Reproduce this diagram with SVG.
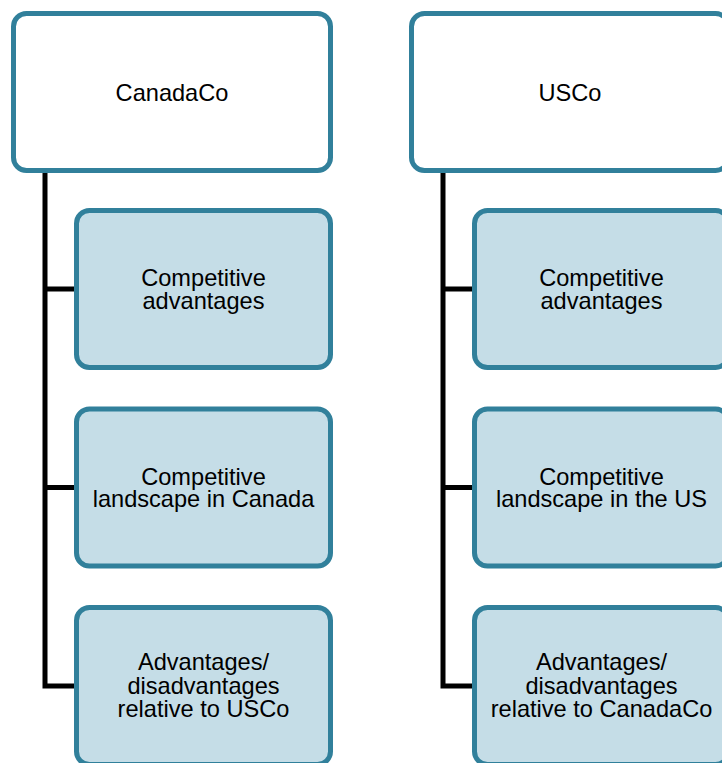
<svg xmlns="http://www.w3.org/2000/svg" width="722" height="763" viewBox="0 0 722 763">
<style>
.top{fill:#FFFFFF;stroke:#31809B;stroke-width:5}
.child{fill:#C5DDE7;stroke:#31809B;stroke-width:5}
.conn{fill:none;stroke:#000000;stroke-width:5;stroke-linejoin:miter}
text{font-family:"Liberation Sans",Arial,sans-serif;font-size:23.6px;fill:#000000;text-anchor:middle}
</style>
<rect width="722" height="763" fill="#FFFFFF"/>
<g id="connectors">
<path class="conn" d="M45,172 V686 H76 M45,289 H76 M45,487.5 H76"/>
<path class="conn" d="M443,172 V686 H474 M443,289 H474 M443,487.5 H474"/>
</g>
<g id="canadaco">
<rect class="top" x="13.5" y="13.5" width="317" height="157" rx="13"/>
<text x="172" y="100.5">CanadaCo</text>
</g>
<g id="canada-adv">
<rect class="child" x="76.5" y="210.5" width="254" height="157" rx="13"/>
<text x="203.5" y="286">Competitive</text>
<text x="203.5" y="308.5">advantages</text>
</g>
<g id="canada-landscape">
<rect class="child" x="76.5" y="409" width="254" height="157" rx="13"/>
<text x="203.5" y="484.5">Competitive</text>
<text x="203.5" y="507">landscape in Canada</text>
</g>
<g id="canada-rel">
<rect class="child" x="76.5" y="607.5" width="254" height="157" rx="13"/>
<text x="203.5" y="670">Advantages/</text>
<text x="203.5" y="693.5">disadvantages</text>
<text x="203.5" y="717">relative to USCo</text>
</g>
<g id="usco">
<rect class="top" x="411.5" y="13.5" width="317" height="157" rx="13"/>
<text x="570" y="100.5">USCo</text>
</g>
<g id="us-adv">
<rect class="child" x="474.5" y="210.5" width="254" height="157" rx="13"/>
<text x="601.5" y="286">Competitive</text>
<text x="601.5" y="308.5">advantages</text>
</g>
<g id="us-landscape">
<rect class="child" x="474.5" y="409" width="254" height="157" rx="13"/>
<text x="601.5" y="484.5">Competitive</text>
<text x="601.5" y="507">landscape in the US</text>
</g>
<g id="us-rel">
<rect class="child" x="474.5" y="607.5" width="254" height="157" rx="13"/>
<text x="601.5" y="670">Advantages/</text>
<text x="601.5" y="693.5">disadvantages</text>
<text x="601.5" y="717">relative to CanadaCo</text>
</g>
</svg>
